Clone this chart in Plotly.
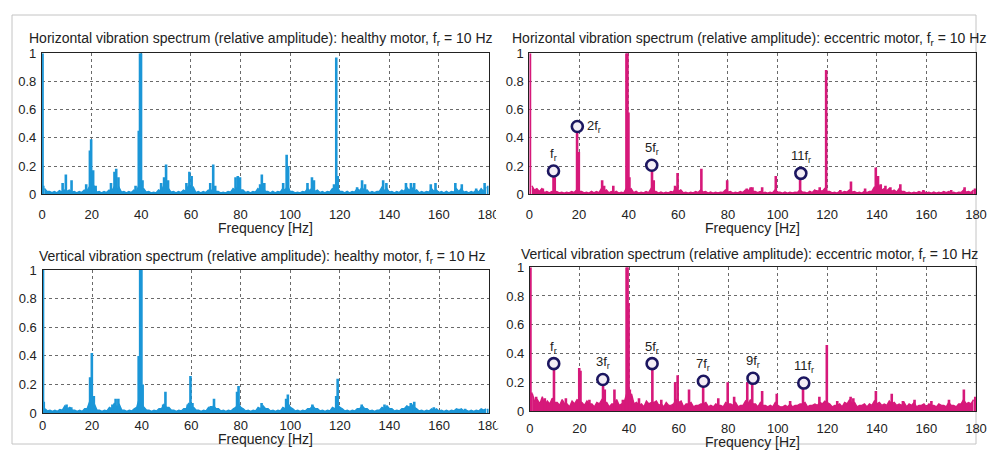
import plotly.graph_objects as go

# ---------------- data ----------------
bg_freq_odd = list(range(1, 180, 2))
bg_freq_even = list(range(2, 180, 2))

# healthy motor, horizontal
hh_bg_odd = [0.04, 0.02, 0.02, 0.025, 0.03, 0.03, 0.02, 0.02, 0.03, 0.05,
             0.06, 0.02, 0.02, 0.03, 0.05, 0.05, 0.02, 0.02, 0.03, 0.06,
             0.04, 0.02, 0.015, 0.03, 0.06, 0.04, 0.02, 0.02, 0.03, 0.06,
             0.05, 0.02, 0.02, 0.03, 0.04, 0.02, 0.015, 0.02, 0.04, 0.06,
             0.03, 0.02, 0.02, 0.04, 0.05, 0.02, 0.02, 0.02, 0.04, 0.06,
             0.02, 0.015, 0.02, 0.04, 0.05, 0.03, 0.02, 0.02, 0.04, 0.05,
             0.02, 0.02, 0.02, 0.04, 0.05, 0.03, 0.02, 0.02, 0.05, 0.04,
             0.02, 0.02, 0.03, 0.05, 0.05, 0.03, 0.02, 0.02, 0.04, 0.03,
             0.02, 0.02, 0.02, 0.04, 0.04, 0.02, 0.02, 0.03, 0.04, 0.05]
hh_bg_even = [0.02, 0.012, 0.01, 0.015, 0.02, 0.015, 0.01, 0.012, 0.02, 0.03,
              0.015, 0.01, 0.012, 0.02, 0.03, 0.015, 0.01, 0.012, 0.02, 0.04,
              0.015, 0.01, 0.01, 0.02, 0.03, 0.015, 0.01, 0.012, 0.02, 0.03,
              0.012, 0.01, 0.012, 0.02, 0.02, 0.01, 0.01, 0.015, 0.025, 0.03,
              0.012, 0.01, 0.015, 0.025, 0.02, 0.01, 0.01, 0.015, 0.03, 0.02,
              0.01, 0.01, 0.015, 0.025, 0.02, 0.012, 0.01, 0.015, 0.03, 0.02,
              0.01, 0.01, 0.015, 0.025, 0.02, 0.01, 0.012, 0.02, 0.025, 0.015,
              0.01, 0.012, 0.02, 0.025, 0.02, 0.01, 0.012, 0.015, 0.02, 0.012,
              0.01, 0.01, 0.015, 0.02, 0.015, 0.01, 0.012, 0.015, 0.02]
hh_pk_f = [0.2, 0.5, 8.3, 9.6, 11.9, 17.8, 19.3, 19.8, 20.6, 21.6, 27.8, 29.2, 29.9, 30.8,
           37.7, 39.0, 39.5, 39.9, 40.5, 48.0, 49.2, 50.0, 50.8, 58.2, 59.4, 60.3, 67.8,
           69.0, 69.8, 78.0, 78.9, 79.8, 87.9, 88.6, 89.6, 97.2, 98.6, 99.2, 107.0, 108.8,
           109.6, 117.7, 118.6, 119.2, 127.0, 129.0, 130.2, 137.5, 138.8, 146.7, 148.7,
           150.0, 156.7, 158.6, 166.6, 169.2, 175.0, 178.4, 179.8]
hh_pk_a = [1.0, 0.06, 0.08, 0.14, 0.10, 0.07, 0.31, 0.39, 0.17, 0.06, 0.08, 0.16, 0.18, 0.12,
           0.06, 0.45, 1.0, 1.0, 0.10, 0.08, 0.12, 0.21, 0.10, 0.08, 0.16, 0.13, 0.08,
           0.21, 0.06, 0.12, 0.13, 0.12, 0.07, 0.14, 0.08, 0.08, 0.28, 0.20, 0.08, 0.12,
           0.10, 0.07, 0.97, 0.13, 0.05, 0.10, 0.07, 0.10, 0.08, 0.08, 0.08,
           0.08, 0.07, 0.08, 0.08, 0.07, 0.04, 0.08, 0.06]

# eccentric motor, horizontal
eh_bg_odd = [0.06, 0.04, 0.04, 0.02, 0.02, 0.02, 0.015, 0.015, 0.02, 0.03,
             0.02, 0.015, 0.02, 0.02, 0.04, 0.03, 0.02, 0.02, 0.015, 0.04,
             0.04, 0.02, 0.015, 0.02, 0.04, 0.02, 0.015, 0.015, 0.02, 0.05,
             0.03, 0.015, 0.015, 0.02, 0.03, 0.02, 0.015, 0.015, 0.015, 0.03,
             0.02, 0.015, 0.02, 0.03, 0.04, 0.02, 0.02, 0.015, 0.015, 0.03,
             0.015, 0.015, 0.015, 0.015, 0.03, 0.015, 0.02, 0.03, 0.03, 0.04,
             0.02, 0.015, 0.02, 0.02, 0.03, 0.02, 0.015, 0.02, 0.02, 0.05,
             0.06, 0.04, 0.04, 0.03, 0.04, 0.02, 0.015, 0.015, 0.02, 0.02,
             0.015, 0.015, 0.015, 0.02, 0.02, 0.015, 0.015, 0.03, 0.02, 0.03]
eh_bg_even = [0.03, 0.02, 0.012, 0.01, 0.012, 0.01, 0.008, 0.01, 0.012, 0.02,
              0.01, 0.008, 0.01, 0.012, 0.02, 0.01, 0.012, 0.008, 0.01, 0.03,
              0.012, 0.008, 0.01, 0.012, 0.02, 0.008, 0.008, 0.01, 0.015, 0.02,
              0.01, 0.008, 0.01, 0.012, 0.015, 0.008, 0.008, 0.01, 0.012, 0.015,
              0.008, 0.01, 0.012, 0.02, 0.02, 0.012, 0.01, 0.008, 0.01, 0.015,
              0.008, 0.008, 0.01, 0.012, 0.015, 0.008, 0.012, 0.015, 0.02, 0.02,
              0.01, 0.008, 0.012, 0.015, 0.015, 0.01, 0.008, 0.012, 0.02, 0.03,
              0.03, 0.025, 0.02, 0.015, 0.02, 0.01, 0.008, 0.01, 0.012, 0.01,
              0.008, 0.008, 0.01, 0.012, 0.01, 0.008, 0.012, 0.015, 0.012]
eh_pk_f = [0.2, 5.4, 9.7, 10.2, 19.2, 19.9, 29.3, 30.1, 33.8, 39.1, 39.5, 39.9, 40.3,
           49.4, 50.1, 58.7, 59.7, 69.3, 79.7, 87.6, 89.2, 89.9, 93.8, 99.3, 109.1,
           115.7, 117.0, 119.6, 125.3, 129.6, 135.3, 139.6, 140.5, 141.6, 143.5, 145.5,
           149.5, 158.8, 170.0, 175.4, 179.6]
eh_pk_a = [1.0, 0.04, 0.16, 0.12, 0.48, 0.30, 0.10, 0.06, 0.06, 1.0, 1.0, 0.58, 0.12,
           0.20, 0.10, 0.06, 0.15, 0.18, 0.10, 0.04, 0.05, 0.05, 0.05, 0.13, 0.15,
           0.03, 0.05, 0.88, 0.03, 0.09, 0.04, 0.19, 0.13, 0.07, 0.06, 0.05,
           0.07, 0.03, 0.03, 0.05, 0.04]

# healthy motor, vertical
hv_bg_odd = [0.03, 0.02, 0.02, 0.025, 0.05, 0.04, 0.02, 0.02, 0.03, 0.08,
             0.06, 0.02, 0.02, 0.04, 0.07, 0.06, 0.02, 0.02, 0.03, 0.10,
             0.04, 0.02, 0.02, 0.03, 0.06, 0.04, 0.02, 0.02, 0.03, 0.07,
             0.04, 0.02, 0.02, 0.04, 0.05, 0.03, 0.02, 0.02, 0.03, 0.07,
             0.03, 0.02, 0.02, 0.04, 0.05, 0.03, 0.02, 0.02, 0.04, 0.07,
             0.03, 0.02, 0.02, 0.03, 0.05, 0.03, 0.02, 0.02, 0.04, 0.06,
             0.03, 0.02, 0.02, 0.03, 0.05, 0.03, 0.02, 0.02, 0.04, 0.05,
             0.03, 0.02, 0.03, 0.05, 0.06, 0.03, 0.02, 0.02, 0.03, 0.03,
             0.02, 0.02, 0.02, 0.03, 0.03, 0.02, 0.02, 0.02, 0.03, 0.03]
hv_bg_even = [0.015, 0.012, 0.012, 0.02, 0.03, 0.02, 0.012, 0.012, 0.03, 0.05,
              0.02, 0.012, 0.015, 0.03, 0.04, 0.02, 0.012, 0.015, 0.04, 0.06,
              0.02, 0.012, 0.015, 0.03, 0.04, 0.02, 0.012, 0.015, 0.03, 0.04,
              0.02, 0.012, 0.015, 0.03, 0.03, 0.015, 0.012, 0.015, 0.04, 0.04,
              0.015, 0.012, 0.015, 0.03, 0.03, 0.015, 0.012, 0.015, 0.03, 0.04,
              0.015, 0.012, 0.015, 0.03, 0.03, 0.015, 0.012, 0.015, 0.03, 0.04,
              0.015, 0.012, 0.015, 0.03, 0.03, 0.015, 0.012, 0.02, 0.03, 0.03,
              0.015, 0.015, 0.03, 0.04, 0.04, 0.015, 0.012, 0.015, 0.02, 0.015,
              0.012, 0.012, 0.015, 0.02, 0.015, 0.012, 0.012, 0.015, 0.02]
hv_pk_f = [0.2, 0.5, 9.7, 11.6, 19.2, 19.9, 20.7, 28.2, 29.5, 30.6, 38.8, 39.4, 39.9, 40.4,
           48.7, 49.6, 58.6, 59.7, 60.5, 67.9, 69.2, 78.5, 79.1, 88.4, 98.3, 99.0, 108.9,
           118.5, 119.1, 128.8, 138.0, 148.6, 150.0, 157.9, 167.8, 170.5, 179.8]
hv_pk_a = [1.0, 0.08, 0.06, 0.04, 0.25, 0.42, 0.12, 0.06, 0.10, 0.10, 0.40, 1.0, 1.0, 0.20,
           0.06, 0.15, 0.06, 0.26, 0.07, 0.05, 0.10, 0.15, 0.19, 0.07, 0.10, 0.13, 0.06,
           0.12, 0.24, 0.06, 0.06, 0.07, 0.08, 0.04, 0.03, 0.03, 0.03]

# eccentric motor, vertical
ev_bg_odd = [0.12, 0.08, 0.10, 0.07, 0.09, 0.06, 0.08, 0.05, 0.07, 0.08,
             0.06, 0.07, 0.05, 0.06, 0.08, 0.06, 0.05, 0.08, 0.05, 0.12,
             0.12, 0.06, 0.05, 0.07, 0.06, 0.07, 0.05, 0.06, 0.04, 0.08,
             0.07, 0.05, 0.06, 0.04, 0.05, 0.06, 0.04, 0.05, 0.04, 0.06,
             0.05, 0.06, 0.04, 0.07, 0.08, 0.05, 0.06, 0.04, 0.04, 0.06,
             0.03, 0.04, 0.05, 0.04, 0.05, 0.06, 0.04, 0.05, 0.06, 0.07,
             0.05, 0.04, 0.05, 0.06, 0.08, 0.06, 0.04, 0.05, 0.05, 0.07,
             0.06, 0.05, 0.07, 0.06, 0.05, 0.06, 0.05, 0.06, 0.04, 0.05,
             0.05, 0.04, 0.05, 0.04, 0.06, 0.04, 0.05, 0.08, 0.06, 0.08]
ev_bg_even = [0.06, 0.05, 0.04, 0.05, 0.06, 0.04, 0.05, 0.03, 0.05, 0.07,
              0.04, 0.05, 0.03, 0.05, 0.06, 0.03, 0.05, 0.04, 0.06, 0.08,
              0.05, 0.04, 0.03, 0.05, 0.06, 0.04, 0.03, 0.04, 0.05, 0.06,
              0.03, 0.05, 0.03, 0.04, 0.05, 0.03, 0.03, 0.04, 0.03, 0.05,
              0.04, 0.03, 0.04, 0.05, 0.05, 0.03, 0.04, 0.03, 0.03, 0.04,
              0.03, 0.03, 0.03, 0.04, 0.05, 0.03, 0.04, 0.04, 0.05, 0.06,
              0.03, 0.04, 0.03, 0.05, 0.05, 0.03, 0.04, 0.03, 0.04, 0.05,
              0.04, 0.04, 0.05, 0.04, 0.04, 0.03, 0.04, 0.03, 0.04, 0.03,
              0.04, 0.03, 0.04, 0.03, 0.04, 0.03, 0.05, 0.05, 0.05]
ev_pk_f = [0.2, 0.6, 2.5, 6.0, 9.7, 14.5, 19.9, 20.4, 24.0, 29.5, 30.2, 34.1, 37.5, 39.0,
           39.4, 39.8, 40.3, 44.0, 49.4, 53.0, 58.6, 59.6, 64.2, 69.9, 76.0, 79.8, 82.4,
           87.7, 89.7, 93.7, 99.6, 105.0, 110.2, 116.8, 119.8, 124.0, 129.4, 130.5, 139.6,
           146.0, 150.5, 155.2, 162.0, 169.1, 175.1, 179.7]
ev_pk_a = [1.0, 0.13, 0.10, 0.09, 0.33, 0.09, 0.30, 0.28, 0.08, 0.20, 0.15, 0.15, 0.08, 1.0,
           1.0, 0.75, 0.15, 0.09, 0.33, 0.08, 0.20, 0.25, 0.15, 0.20, 0.09, 0.20, 0.10,
           0.20, 0.22, 0.14, 0.12, 0.07, 0.19, 0.10, 0.46, 0.07, 0.10, 0.09, 0.14,
           0.12, 0.07, 0.08, 0.07, 0.08, 0.15, 0.10]

# marked harmonics
eh_mark_f = [9.7, 19.3, 49.3, 109.4]
eh_mark_a = [0.165, 0.48, 0.205, 0.148]
eh_mark_lbl = ["f<sub>r</sub>", "2f<sub>r</sub>", "5f<sub>r</sub>", "11f<sub>r</sub>"]
ev_mark_f = [9.6, 29.4, 49.3, 70.0, 90.0, 110.5]
ev_mark_a = [0.33, 0.22, 0.33, 0.208, 0.228, 0.195]
ev_mark_lbl = ["f<sub>r</sub>", "3f<sub>r</sub>", "5f<sub>r</sub>", "7f<sub>r</sub>",
               "9f<sub>r</sub>", "11f<sub>r</sub>"]

x_ticks = [0, 20, 40, 60, 80, 100, 120, 140, 160, 180]
y_ticks = [0, 0.2, 0.4, 0.6, 0.8, 1]
y_tick_text = ["0", "0.2", "0.4", "0.6", "0.8", "1"]

titles = [
    "Horizontal vibration spectrum (relative amplitude): healthy motor, f<sub>r</sub> = 10 Hz",
    "Horizontal vibration spectrum (relative amplitude): eccentric motor, f<sub>r</sub> = 10 Hz",
    "Vertical vibration spectrum (relative amplitude): healthy motor, f<sub>r</sub> = 10 Hz",
    "Vertical vibration spectrum (relative amplitude): eccentric motor, f<sub>r</sub> = 10 Hz",
]

# ---------------- layout geometry (page pixels of the 995x460 window) ----------------
OFF = 8                      # default page margin around the plot div
W, H = 995 - 2 * OFF, 460 - 2 * OFF
BLUE = "#1b96d7"
PINK = "#d6197a"
NAVY = "#1c1660"
FONT = "Liberation Sans, Arial, sans-serif"

# (left, right, top, bottom) of each plot area in page px
boxes = [(38.5, 492, 47.5, 193.5), (533.5, 987, 47.5, 193.5),
         (39, 492, 272, 420), (534, 987, 269, 418)]
title_y = [33, 33, 258, 256]
xlabel_y = [228, 228, 447, 450]
xtick_standoff = [8, 8, 0, 5]


def px_x(x):
    return min(max((x - OFF) / W, 0), 1)


def px_y(y):
    return min(max(1 - (y - OFF) / H, 0), 1)


fig = go.Figure()

panels = [(hh_bg_odd, hh_bg_even, hh_pk_f, hh_pk_a, BLUE),
          (eh_bg_odd, eh_bg_even, eh_pk_f, eh_pk_a, PINK),
          (hv_bg_odd, hv_bg_even, hv_pk_f, hv_pk_a, BLUE),
          (ev_bg_odd, ev_bg_even, ev_pk_f, ev_pk_a, PINK)]

for i, (bg_o, bg_e, pf, pa, col) in enumerate(panels):
    ax = "" if i == 0 else str(i + 1)
    xa, ya = "x" + ax, "y" + ax
    pts = sorted(list(zip(bg_freq_odd, bg_o)) + list(zip(bg_freq_even, bg_e)))
    fig.add_trace(go.Scatter(x=[p[0] for p in pts], y=[p[1] for p in pts], mode="lines",
                             xaxis=xa, yaxis=ya, line=dict(color=col, width=1.4),
                             fill="tozeroy", fillcolor=col, hoverinfo="skip",
                             showlegend=False))
    sx, sy = [], []
    for f, a in zip(pf, pa):
        sx += [f, f, None]
        sy += [0, a, None]
    fig.add_trace(go.Scatter(x=sx, y=sy, mode="lines", xaxis=xa, yaxis=ya,
                             line=dict(color=col, width=2.6), hoverinfo="skip",
                             showlegend=False))

for idx, (mf, ma, ml) in [(1, (eh_mark_f, eh_mark_a, eh_mark_lbl)),
                          (3, (ev_mark_f, ev_mark_a, ev_mark_lbl))]:
    ax = str(idx + 1)
    fig.add_trace(go.Scatter(x=mf, y=ma, mode="markers", xaxis="x" + ax, yaxis="y" + ax,
                             marker=dict(symbol="circle", size=11, color="#f4eef6",
                                         line=dict(color=NAVY, width=2.6)),
                             showlegend=False, hoverinfo="skip"))
    for k, (f, a, t) in enumerate(zip(mf, ma, ml)):
        right = (idx == 1 and k == 1)
        fig.add_annotation(x=f, y=a, xref="x" + ax, yref="y" + ax, text=t,
                           showarrow=False, xanchor="left" if right else "center",
                           yanchor="middle" if right else "bottom",
                           xshift=8 if right else 0, yshift=0 if right else 6,
                           font=dict(family=FONT, size=13, color="#222"))

layout = {}
for i, (l, r, t, b) in enumerate(boxes):
    ax = "" if i == 0 else str(i + 1)
    common = dict(showline=True, linecolor="#222", linewidth=1.2, mirror=True,
                  showgrid=True, gridcolor="#6a6a6a", gridwidth=1, griddash="3px,3px",
                  zeroline=False, ticks="", tickfont=dict(family=FONT, size=13, color="#222"))
    layout["xaxis" + ax] = dict(domain=[px_x(l), px_x(r)], range=[0, 180],
                                anchor="y" + ax, tickvals=x_ticks,
                                ticklabelstandoff=xtick_standoff[i], **common)
    layout["yaxis" + ax] = dict(domain=[px_y(b), px_y(t)], range=[0, 1],
                                anchor="x" + ax, tickvals=y_ticks, ticktext=y_tick_text,
                                ticklabelstandoff=2, **common)
    fig.add_annotation(x=px_x((l + r) / 2 - 4), y=px_y(title_y[i]), xref="paper", yref="paper",
                       text=titles[i], showarrow=False, xanchor="center", yanchor="middle",
                       font=dict(family=FONT, size=14, color="#222"))
    fig.add_annotation(x=px_x((l + r) / 2), y=px_y(xlabel_y[i]), xref="paper", yref="paper",
                       text="Frequency [Hz]", showarrow=False, xanchor="center",
                       yanchor="middle", font=dict(family=FONT, size=14, color="#222"))

fig.update_layout(width=W, height=H, margin=dict(l=0, r=0, t=0, b=0),
                  paper_bgcolor="white", plot_bgcolor="white", **layout)

# outer frame of the figure
fig.add_shape(type="rect", xref="paper", yref="paper", x0=px_x(8), x1=px_x(992),
              y0=px_y(455), y1=px_y(8), line=dict(color="#c4c4c4", width=1), layer="below")
# the right-hand panels overlap the last tick label of the left-hand panels
for yc in (210, 427):
    fig.add_shape(type="rect", xref="paper", yref="paper", x0=px_x(499.5), x1=px_x(512),
                  y0=px_y(yc + 9), y1=px_y(yc - 9), line=dict(width=0),
                  fillcolor="white", layer="above")

fig.write_html("out.html")
